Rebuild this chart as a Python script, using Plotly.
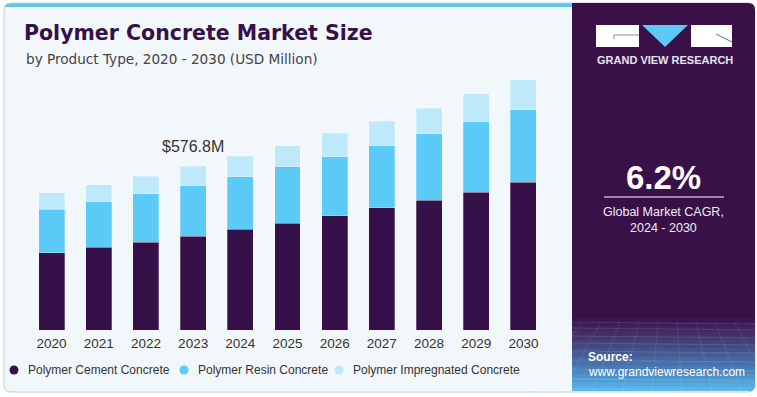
import plotly.graph_objects as go

# ---------------- data ----------------
years = ["2020", "2021", "2022", "2023", "2024", "2025", "2026", "2027", "2028", "2029", "2030"]
series_names = ["Polymer Cement Concrete", "Polymer Resin Concrete", "Polymer Impregnated Concrete"]
cement = [272, 291, 310, 330.2, 355, 376, 402, 430, 458, 486, 520]
resin = [153, 161, 170, 178.3, 185, 199, 209, 220, 233, 247, 257]
impregnated = [58, 59, 62, 68.3, 73, 75, 82, 86, 91, 99, 104]
highlight_year = "2023"
highlight_label = "$576.8M"
cagr_value = "6.2%"
cagr_label = "Global Market CAGR,<br>2024 - 2030"

colors = ["#361048", "#5bcaf6", "#bde9fa"]
W, H = 757, 397
FONT = "Liberation Sans, Arial, sans-serif"
WIDE = "DejaVu Sans, Liberation Sans, sans-serif"


def X(px):
    return px / W


def Y(py):
    return 1 - py / H


def rrect(x0, y0, x1, y1, r, tl=True, tr=True, br=True, bl=True):
    def P(x, y):
        return f"{X(x):.5f},{Y(y):.5f}"
    s = f"M {P(x0 + (r if tl else 0), y0)} L {P(x1 - (r if tr else 0), y0)} "
    if tr:
        s += f"Q {P(x1, y0)} {P(x1, y0 + r)} "
    s += f"L {P(x1, y1 - (r if br else 0))} "
    if br:
        s += f"Q {P(x1, y1)} {P(x1 - r, y1)} "
    s += f"L {P(x0 + (r if bl else 0), y1)} "
    if bl:
        s += f"Q {P(x0, y1)} {P(x0, y1 - r)} "
    s += f"L {P(x0, y0 + (r if tl else 0))} "
    if tl:
        s += f"Q {P(x0, y0)} {P(x0 + r, y0)} "
    return s + "Z"


fig = go.Figure()
for name, vals, col in zip(series_names, [cement, resin, impregnated], colors):
    fig.add_trace(go.Bar(
        x=years, y=vals, name=name,
        marker=dict(color=col, line=dict(color="rgba(255,255,255,0.45)", width=0.6)),
        width=0.55, showlegend=False, hoverinfo="x+y+name",
    ))

shapes = []
# card
shapes.append(dict(type="path", path=rrect(4, 3, 755, 392, 7), xref="paper", yref="paper",
                   fillcolor="#5ec6ee", line=dict(width=0), layer="below"))
shapes.append(dict(type="path", path=rrect(4, 7, 755, 392, 7, tl=False, tr=False), xref="paper", yref="paper",
                   fillcolor="#f2f7fb", line=dict(width=0), layer="below"))
shapes.append(dict(type="path", path=rrect(4, 3, 755, 392, 7), xref="paper", yref="paper",
                   fillcolor="rgba(0,0,0,0)", line=dict(color="#c9cdd2", width=1), layer="below"))
# right panel
shapes.append(dict(type="path", path=rrect(572, 3, 755, 391, 7, tl=False, bl=False), xref="paper", yref="paper",
                   fillcolor="#3a1049", line=dict(width=0), layer="below"))
# gradient bands at bottom of panel
band_cols = ["#3c1650", "#3e1d57", "#40255f", "#422d67", "#433670", "#443f79", "#454883", "#46528d",
             "#475c97", "#4866a1", "#4970ab", "#4a7bb5", "#4c86c0", "#4e92ca", "#519ed4", "#55aadd", "#59b5e6"]
y_start, y_end = 318, 391
nb = len(band_cols)
step = (y_end - y_start) / nb
for i, c in enumerate(band_cols):
    yy0 = y_start + i * step
    yy1 = y_start + (i + 1) * step + 0.6
    if i == nb - 1:
        shapes.append(dict(type="path", path=rrect(572, yy0, 755, y_end, 7, tl=False, tr=False, bl=False),
                           xref="paper", yref="paper", fillcolor=c, line=dict(width=0), layer="below"))
    else:
        shapes.append(dict(type="rect", x0=X(572), x1=X(755), y0=Y(yy1), y1=Y(yy0), xref="paper", yref="paper",
                           fillcolor=c, line=dict(width=0), layer="below"))
# faint mesh lines
mesh_y = [322, 328, 336, 343, 351, 360, 369, 379, 389]
for my in mesh_y:
    shapes.append(dict(type="line", x0=X(572), x1=X(755), y0=Y(my), y1=Y(my + 2), xref="paper", yref="paper",
                       line=dict(color="rgba(255,255,255,0.14)", width=0.8), layer="below"))
for k in range(10):
    xt = 572 + 10 + k * 19
    xb = 572 - 40 + k * 30
    shapes.append(dict(type="line", x0=X(xt), x1=X(xb), y0=Y(322), y1=Y(391), xref="paper", yref="paper",
                       line=dict(color="rgba(255,255,255,0.11)", width=0.8), layer="below"))

# logo
shapes.append(dict(type="rect", x0=X(596), x1=X(639), y0=Y(47), y1=Y(25), xref="paper", yref="paper",
                   fillcolor="#ffffff", line=dict(width=0)))
shapes.append(dict(type="line", x0=X(614), x1=X(639), y0=Y(35), y1=Y(35), xref="paper", yref="paper",
                   line=dict(color="#8a8a9a", width=1)))
shapes.append(dict(type="line", x0=X(614), x1=X(614), y0=Y(35), y1=Y(39), xref="paper", yref="paper",
                   line=dict(color="#8a8a9a", width=1)))
shapes.append(dict(type="path", path=f"M {X(642)},{Y(25)} L {X(688)},{Y(25)} L {X(665)},{Y(47)} Z",
                   xref="paper", yref="paper", fillcolor="#5bc8f5", line=dict(width=0)))
shapes.append(dict(type="rect", x0=X(691), x1=X(732), y0=Y(47), y1=Y(25), xref="paper", yref="paper",
                   fillcolor="#ffffff", line=dict(width=0)))
shapes.append(dict(type="line", x0=X(716), x1=X(732), y0=Y(34), y1=Y(42), xref="paper", yref="paper",
                   line=dict(color="#6a6a7a", width=1)))
# CAGR separator
shapes.append(dict(type="line", x0=X(604), x1=X(724), y0=Y(197), y1=Y(197), xref="paper", yref="paper",
                   line=dict(color="#b8b0c8", width=1.5)))

annotations = []
hi = years.index(highlight_year)
total_h = cement[hi] + resin[hi] + impregnated[hi]
annotations.append(dict(x=hi, y=total_h, xref="x", yref="y", text=highlight_label,
                        showarrow=False, yanchor="bottom", yshift=9,
                        font=dict(family=FONT, size=16, color="#333333")))
annotations.append(dict(x=X(24), y=Y(59), xref="paper", yref="paper", xanchor="left", yanchor="middle",
                        text="by Product Type, 2020 - 2030 (USD Million)", showarrow=False,
                        font=dict(family=WIDE, size=13.6, color="#444444")))
annotations.append(dict(x=X(664.5), y=Y(60), xref="paper", yref="paper", xanchor="center", yanchor="middle",
                        text="<b>GRAND VIEW RESEARCH</b>", showarrow=False,
                        font=dict(family=FONT, size=11, color="#e6e4ee")))
annotations.append(dict(x=X(663), y=Y(177), xref="paper", yref="paper", xanchor="center", yanchor="middle",
                        text=f"<b>{cagr_value}</b>", showarrow=False,
                        font=dict(family=FONT, size=33, color="#ffffff")))
annotations.append(dict(x=X(663), y=Y(219.5), xref="paper", yref="paper", xanchor="center", yanchor="middle",
                        text=cagr_label, showarrow=False,
                        font=dict(family=FONT, size=12.5, color="#f0eef4")))
annotations.append(dict(x=X(586), y=Y(357), xref="paper", yref="paper", xanchor="left", yanchor="middle",
                        text="<b>Source:</b>", showarrow=False,
                        font=dict(family=FONT, size=12, color="#ffffff")))
annotations.append(dict(x=X(586), y=Y(372), xref="paper", yref="paper", xanchor="left", yanchor="middle",
                        text="www.grandviewresearch.com", showarrow=False,
                        font=dict(family=FONT, size=12, color="#ffffff")))

# legend (circle markers + labels)
legend_marker_x = [14, 184, 339]
for name, col, mx in zip(series_names, colors, legend_marker_x):
    shapes.append(dict(type="circle", xref="paper", yref="paper",
                       x0=X(mx - 4.5), x1=X(mx + 4.5), y0=Y(374.5), y1=Y(365.5),
                       fillcolor=col, line=dict(width=0)))
    annotations.append(dict(x=X(mx + 12), y=Y(370), xref="paper", yref="paper", xanchor="left", yanchor="middle",
                            text=name, showarrow=False,
                            font=dict(family=FONT, size=12, color="#333333")))

fig.update_layout(
    width=W, height=H, autosize=False,
    margin=dict(l=0, r=0, t=0, b=0),
    paper_bgcolor="#ffffff", plot_bgcolor="rgba(0,0,0,0)",
    barmode="stack", bargap=0.45,
    title=dict(text="<b>Polymer Concrete Market Size</b>", x=X(24), xanchor="left", xref="paper",
               y=Y(33), yanchor="middle", yref="paper",
               font=dict(family=WIDE, size=20.5, color="#361048")),
    xaxis=dict(domain=[X(28), X(547)], type="category", showgrid=False, zeroline=False, showline=False,
               ticks="", tickfont=dict(family=FONT, size=13.5, color="#333333"),
               ticklabelstandoff=3, range=[-0.5, 10.5]),
    yaxis=dict(domain=[Y(330), Y(75)], range=[0, 898.6], visible=False, showgrid=False, zeroline=False),
    shapes=shapes, annotations=annotations, showlegend=False,
)

fig.write_html("out.html", config={"displayModeBar": False},
               post_script="document.body.style.margin='0';document.body.style.overflow='hidden';")
